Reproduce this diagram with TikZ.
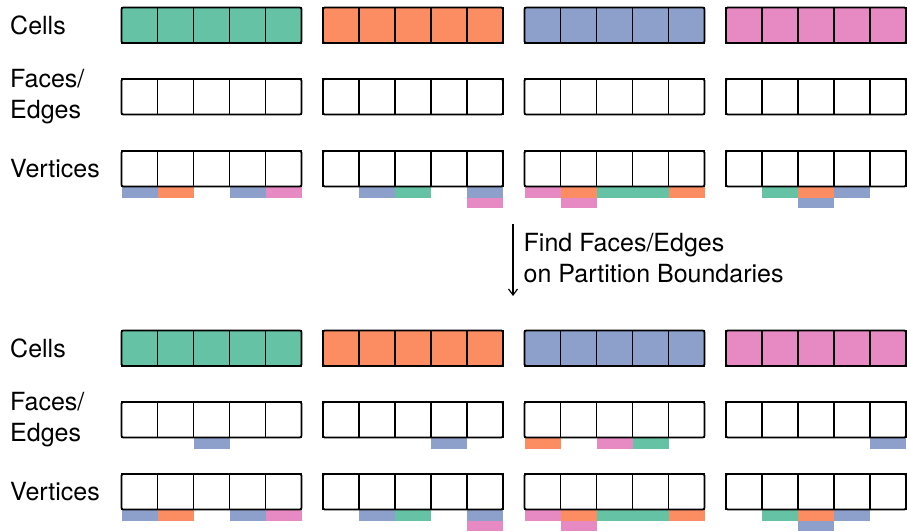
\documentclass[tikz,border=0pt]{standalone}
\usepackage{fontspec}
\setmainfont{TeX Gyre Heros}
\usetikzlibrary{arrows.meta}
\definecolor{PartGreen}{HTML}{66C2A5}
\definecolor{PartOrange}{HTML}{FC8D62}
\definecolor{PartBlue}{HTML}{8DA0CB}
\definecolor{PartPink}{HTML}{E78AC3}

\begin{document}
\begin{tikzpicture}[x=1pt,y=-1pt,>={Straight Barb[length=6pt,width=9pt]},
    cellbox/.style={draw=black,line width=1.5pt},
    groupbox/.style={draw=black,line width=1.6pt,rounded corners=1.5pt},
    rowlabel/.style={anchor=west,inner sep=0pt,align=left,font=\fontsize{25}{31}\selectfont}]
  \useasboundingbox (0,0) rectangle (907,531);
  % shared-entity tags below the rows (group/slot/level/colour)
  \foreach \dy in {0,323} {
    \foreach \g/\i/\lev/\col in {0/0/0/PartBlue,0/1/0/PartOrange,0/3/0/PartBlue,0/4/0/PartPink,
        1/1/0/PartBlue,1/2/0/PartGreen,1/4/0/PartBlue,1/4/1/PartPink,
        2/0/0/PartPink,2/1/0/PartOrange,2/1/1/PartPink,2/2/0/PartGreen,2/3/0/PartGreen,2/4/0/PartOrange,
        3/1/0/PartGreen,3/2/0/PartOrange,3/2/1/PartBlue,3/3/0/PartBlue}
      \fill[\col] (121.5+201.5*\g+36*\i,187.2+10.3*\lev+\dy) rectangle ++(36,10.3);
  }
  \foreach \g/\i/\col in {0/2/PartBlue,1/3/PartBlue,2/0/PartOrange,2/2/PartPink,2/3/PartGreen,3/4/PartBlue}
    \fill[\col] (121.5+201.5*\g+36*\i,438.2) rectangle ++(36,10.3);
  % before (top) and after (bottom)
  \foreach \dy/\s in {0/a,323/b} {
    \node[rowlabel] (cells\s) at (10,25+\dy) {Cells};
    \node[rowlabel] (faces\s) at (10,97+\dy) {Faces/\\Edges};
    \node[rowlabel] (verts\s) at (10,169+\dy) {Vertices};
    \foreach \g/\col in {0/PartGreen,1/PartOrange,2/PartBlue,3/PartPink} {
      \foreach \i in {0,...,4} {
        \draw[cellbox,fill=\col] (121.5+201.5*\g+36*\i,7.5+\dy) rectangle ++(36,35.5);
        \draw[cellbox] (121.5+201.5*\g+36*\i,79+\dy) rectangle ++(36,35.5);
        \draw[cellbox] (121.5+201.5*\g+36*\i,151+\dy) rectangle ++(36,35.5);
      }
      \foreach \ytop in {7.5,79,151}
        \draw[groupbox] (121.5+201.5*\g,\ytop+\dy) rectangle ++(180,35.5);
    }
  }
  % step between the two states
  \coordinate (steptop) at (513,224);
  \coordinate (stepbot) at (513,296);
  \draw[->,line width=1.2pt] (steptop) -- (stepbot);
  \node[rowlabel] (steplabel) at (523.5,258.5) {Find Faces/Edges\\on Partition Boundaries};
\end{tikzpicture}
\end{document}
